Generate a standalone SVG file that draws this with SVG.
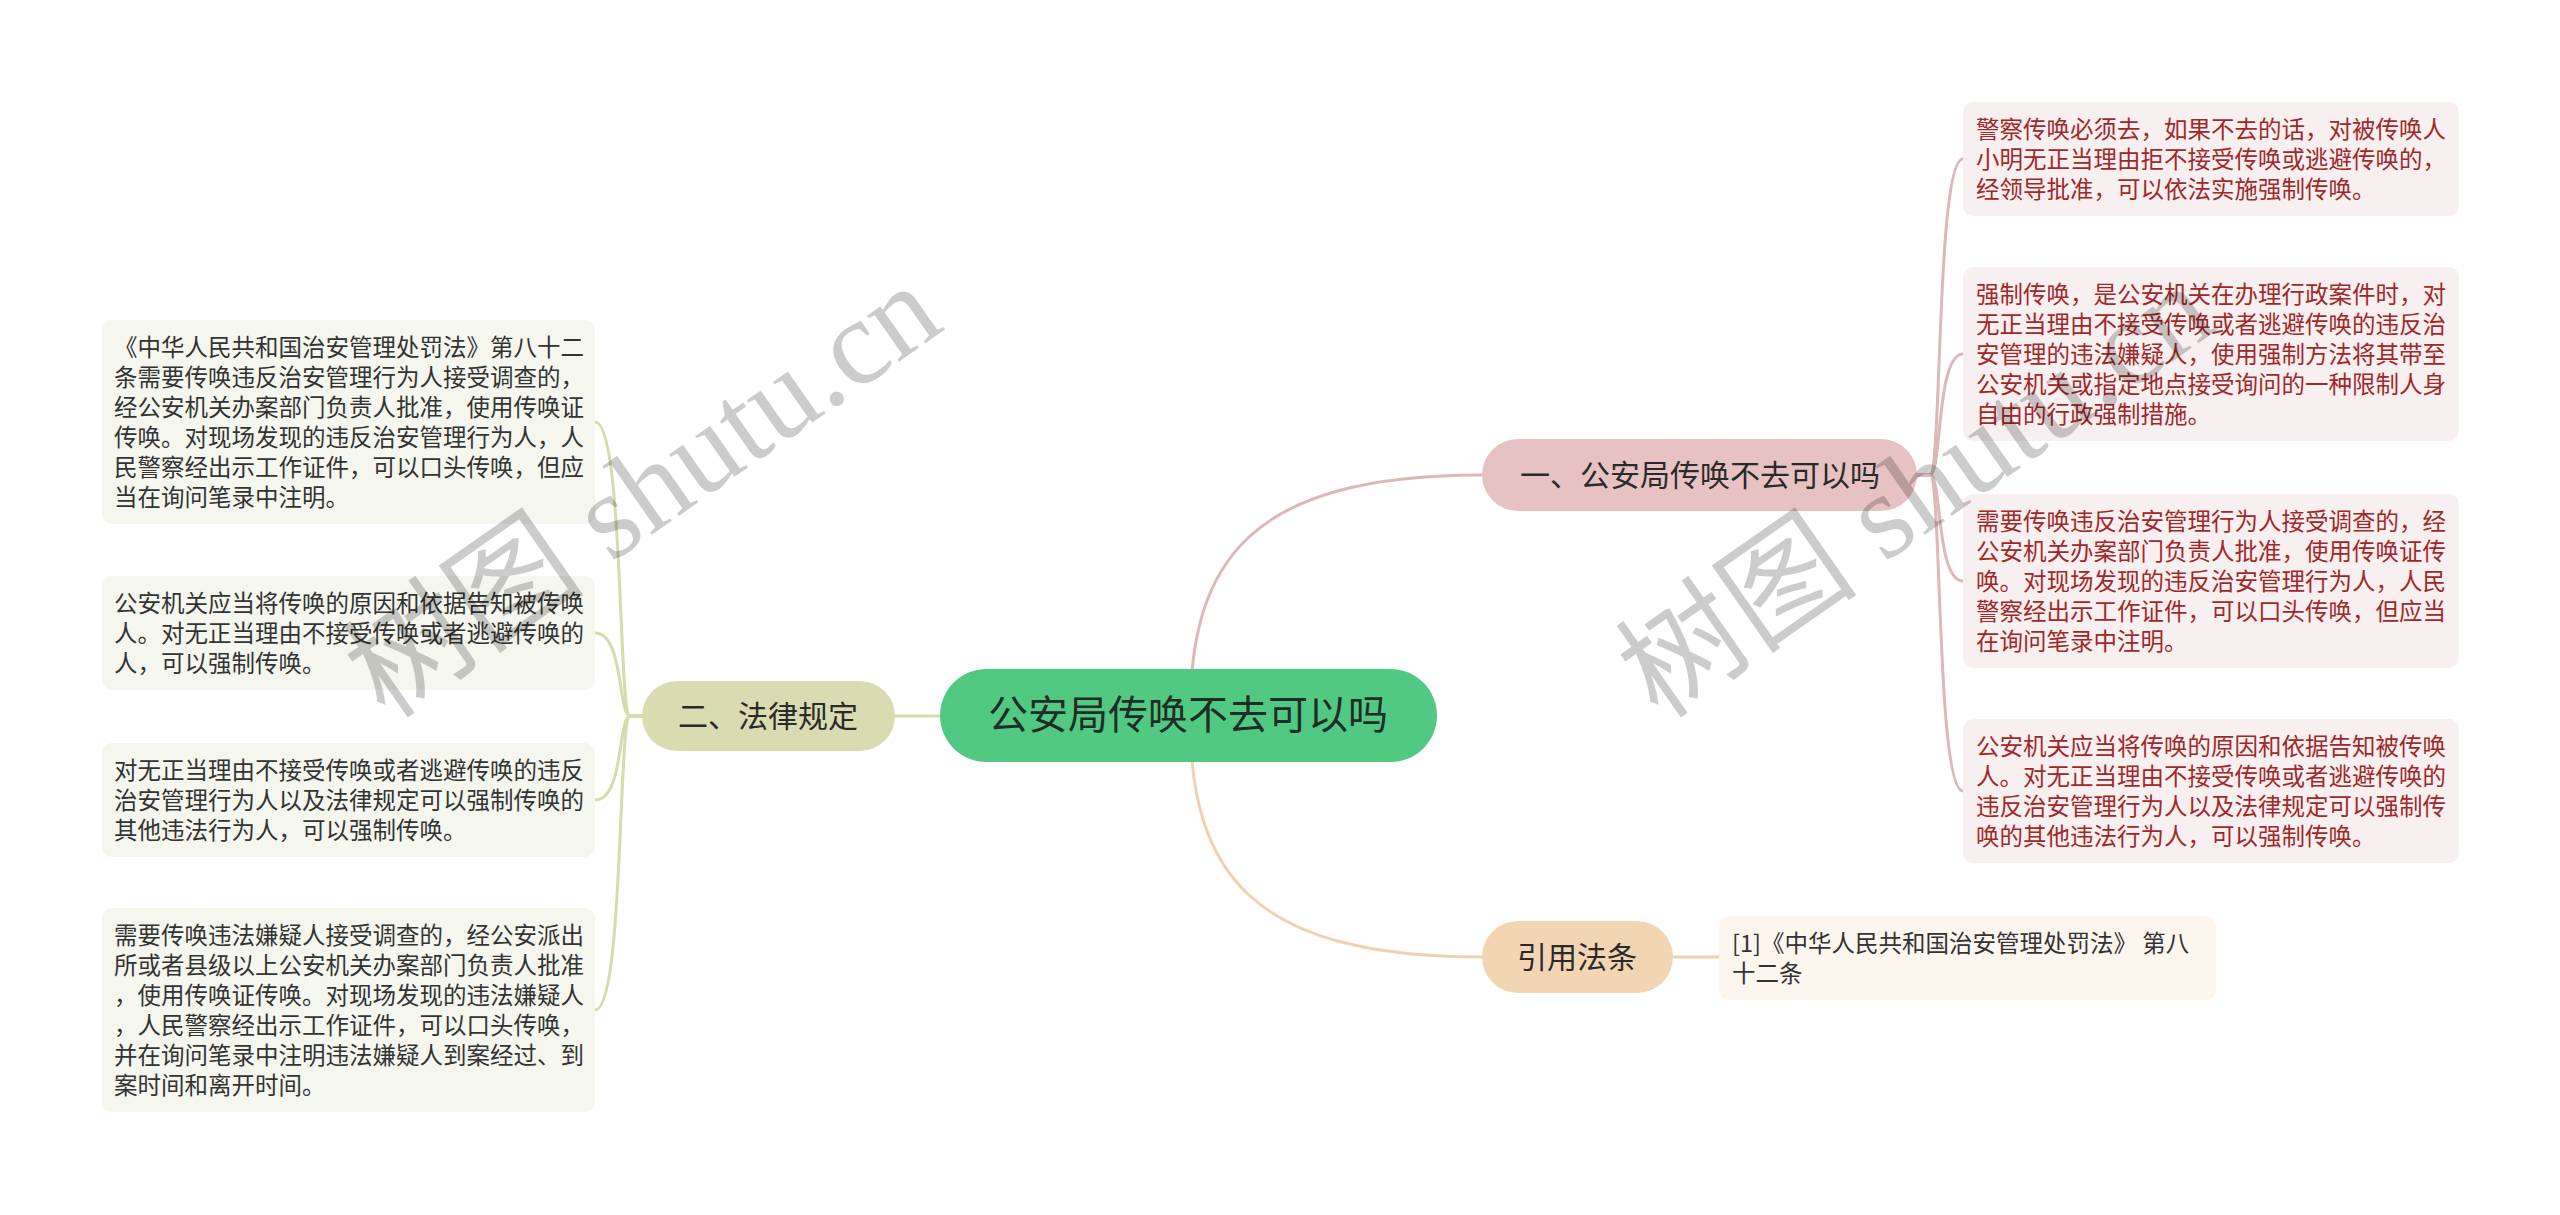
<svg xmlns="http://www.w3.org/2000/svg" width="2560" height="1215" viewBox="0 0 2560 1215">
<style>
.bg{fill:#ffffff}
.cn{font-family:"Noto Sans CJK SC","Noto Sans",sans-serif}
.root{fill:#52c983}
.roott{font-size:40px;fill:#1e2e24;text-anchor:middle}
.n1{fill:#e6c2c2}
.n2{fill:#d9dcb1}
.n3{fill:#f2d5b3}
.mt{font-size:30px;fill:#2a2a2a;text-anchor:middle}
.lr{fill:#f8f0f0}
.ll{fill:#f5f7ee}
.lc{fill:#fdf6ef}
.tr{font-size:23.5px;fill:#a0282a}
.tl{font-size:23.5px;fill:#333333}
.c{fill:none;stroke-width:3;stroke-linecap:round}
.cp{stroke:#dcb8b8}
.co{stroke:#d6dcab}
.cf{stroke:#efd2b0}
.wm{font-family:"Liberation Serif","Noto Sans CJK SC",serif;font-size:122px;fill:#000;fill-opacity:0.2}
</style>
<rect class="bg" x="0" y="0" width="2560" height="1215"/>

<g id="connectors">
  <path class="c co" d="M1190,716 L895,716"/>
  <path class="c cp" d="M1190,716 C1190,560 1250,475 1482,475"/>
  <path class="c cf" d="M1190,716 C1190,872 1250,957 1482,957"/>
  <path class="c cp" d="M1917,475 L1930,475 C1942,475 1936,159 1963,159"/>
  <path class="c cp" d="M1917,475 L1930,475 C1942,475 1936,354 1963,354"/>
  <path class="c cp" d="M1917,475 L1930,475 C1942,475 1936,581 1963,581"/>
  <path class="c cp" d="M1917,475 L1930,475 C1942,475 1936,791 1963,791"/>
  <path class="c co" d="M642,716 L630,716 C618,716 624,422 595,422"/>
  <path class="c co" d="M642,716 L630,716 C618,716 624,633 595,633"/>
  <path class="c co" d="M642,716 L630,716 C618,716 624,800 595,800"/>
  <path class="c co" d="M642,716 L630,716 C618,716 624,1010 595,1010"/>
  <path class="c cf" d="M1673,957 L1719,957"/>
</g>

<g id="root">
  <rect class="root" x="940" y="669" width="497" height="93" rx="46.5"/>
  <text class="cn roott" x="1188" y="729">公安局传唤不去可以吗</text>
</g>

<g id="node-1">
  <rect class="n1" x="1482" y="439" width="435" height="72" rx="36"/>
  <text class="cn mt" x="1700" y="486">一、公安局传唤不去可以吗</text>
</g>
<g id="node-2">
  <rect class="n2" x="642" y="681" width="253" height="70" rx="35"/>
  <text class="cn mt" x="768" y="727">二、法律规定</text>
</g>
<g id="node-3">
  <rect class="n3" x="1482" y="921" width="191" height="72" rx="36"/>
  <text class="cn mt" x="1577" y="968">引用法条</text>
</g>

<g id="leaf-r1">
  <rect class="lr" x="1963" y="102" width="496" height="114" rx="10"/>
  <text class="cn tr" x="1976" y="138">警察传唤必须去，如果不去的话，对被传唤人</text>
  <text class="cn tr" x="1976" y="168">小明无正当理由拒不接受传唤或逃避传唤的，</text>
  <text class="cn tr" x="1976" y="198">经领导批准，可以依法实施强制传唤。</text>
</g>
<g id="leaf-r2">
  <rect class="lr" x="1963" y="267" width="496" height="174" rx="10"/>
  <text class="cn tr" x="1976" y="303">强制传唤，是公安机关在办理行政案件时，对</text>
  <text class="cn tr" x="1976" y="333">无正当理由不接受传唤或者逃避传唤的违反治</text>
  <text class="cn tr" x="1976" y="363">安管理的违法嫌疑人，使用强制方法将其带至</text>
  <text class="cn tr" x="1976" y="393">公安机关或指定地点接受询问的一种限制人身</text>
  <text class="cn tr" x="1976" y="423">自由的行政强制措施。</text>
</g>
<g id="leaf-r3">
  <rect class="lr" x="1963" y="494" width="496" height="174" rx="10"/>
  <text class="cn tr" x="1976" y="530">需要传唤违反治安管理行为人接受调查的，经</text>
  <text class="cn tr" x="1976" y="560">公安机关办案部门负责人批准，使用传唤证传</text>
  <text class="cn tr" x="1976" y="590">唤。对现场发现的违反治安管理行为人，人民</text>
  <text class="cn tr" x="1976" y="620">警察经出示工作证件，可以口头传唤，但应当</text>
  <text class="cn tr" x="1976" y="650">在询问笔录中注明。</text>
</g>
<g id="leaf-r4">
  <rect class="lr" x="1963" y="719" width="496" height="144" rx="10"/>
  <text class="cn tr" x="1976" y="755">公安机关应当将传唤的原因和依据告知被传唤</text>
  <text class="cn tr" x="1976" y="785">人。对无正当理由不接受传唤或者逃避传唤的</text>
  <text class="cn tr" x="1976" y="815">违反治安管理行为人以及法律规定可以强制传</text>
  <text class="cn tr" x="1976" y="845">唤的其他违法行为人，可以强制传唤。</text>
</g>

<g id="leaf-l1">
  <rect class="ll" x="102" y="320" width="493" height="204" rx="10"/>
  <text class="cn tl" x="114" y="356">《中华人民共和国治安管理处罚法》第八十二</text>
  <text class="cn tl" x="114" y="386">条需要传唤违反治安管理行为人接受调查的，</text>
  <text class="cn tl" x="114" y="416">经公安机关办案部门负责人批准，使用传唤证</text>
  <text class="cn tl" x="114" y="446">传唤。对现场发现的违反治安管理行为人，人</text>
  <text class="cn tl" x="114" y="476">民警察经出示工作证件，可以口头传唤，但应</text>
  <text class="cn tl" x="114" y="506">当在询问笔录中注明。</text>
</g>
<g id="leaf-l2">
  <rect class="ll" x="102" y="576" width="493" height="114" rx="10"/>
  <text class="cn tl" x="114" y="612">公安机关应当将传唤的原因和依据告知被传唤</text>
  <text class="cn tl" x="114" y="642">人。对无正当理由不接受传唤或者逃避传唤的</text>
  <text class="cn tl" x="114" y="672">人，可以强制传唤。</text>
</g>
<g id="leaf-l3">
  <rect class="ll" x="102" y="743" width="493" height="114" rx="10"/>
  <text class="cn tl" x="114" y="779">对无正当理由不接受传唤或者逃避传唤的违反</text>
  <text class="cn tl" x="114" y="809">治安管理行为人以及法律规定可以强制传唤的</text>
  <text class="cn tl" x="114" y="839">其他违法行为人，可以强制传唤。</text>
</g>
<g id="leaf-l4">
  <rect class="ll" x="102" y="908" width="493" height="204" rx="10"/>
  <text class="cn tl" x="114" y="944">需要传唤违法嫌疑人接受调查的，经公安派出</text>
  <text class="cn tl" x="114" y="974">所或者县级以上公安机关办案部门负责人批准</text>
  <text class="cn tl" x="114" y="1004">，使用传唤证传唤。对现场发现的违法嫌疑人</text>
  <text class="cn tl" x="114" y="1034">，人民警察经出示工作证件，可以口头传唤，</text>
  <text class="cn tl" x="114" y="1064">并在询问笔录中注明违法嫌疑人到案经过、到</text>
  <text class="cn tl" x="114" y="1094">案时间和离开时间。</text>
</g>

<g id="leaf-ref">
  <rect class="lc" x="1719" y="916" width="497" height="84" rx="10"/>
  <text class="cn tl" x="1732" y="952">[1]《中华人民共和国治安管理处罚法》 第八</text>
  <text class="cn tl" x="1732" y="982">十二条</text>
</g>

<g id="watermarks">
  <text class="wm" transform="translate(386,721) rotate(-35)">树图 shutu.cn</text>
  <text class="wm" transform="translate(1659,721) rotate(-35)">树图 shutu.cn</text>
</g>
</svg>
